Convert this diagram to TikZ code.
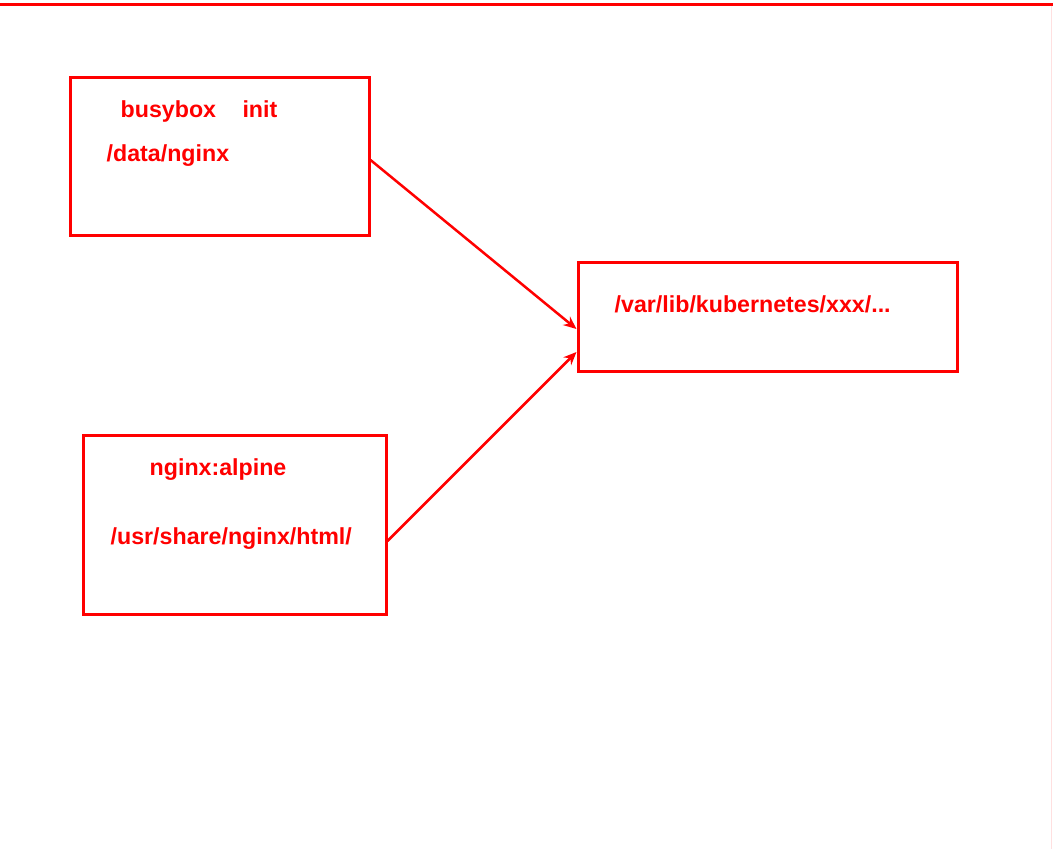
\documentclass[tikz,border=0pt]{standalone}
\usepackage{fontspec}
\setmainfont{Liberation Sans}
\usetikzlibrary{arrows.meta}
\definecolor{pathred}{RGB}{255,0,0}
\begin{document}
\begin{tikzpicture}[x=1pt,y=-1pt,box/.style={draw=pathred,line
        width=3pt,rectangle,inner sep=0pt},lbl/.style={anchor=base
        west,inner sep=0pt,text=pathred,font=\fontsize{23.2}{28}\selectfont\bfseries},
        mount/.style={draw=pathred,line width=2.5pt,-{Stealth[length=13pt,width=11pt]}}]

    \useasboundingbox (0,0) rectangle (1053,849);
    \draw[pathred,line width=3pt] (0,4) -- (1053,4);
    \draw[pathred!12,line width=1pt] (1051.5,5.5) -- (1051.5,849);

    \node[box,minimum width=299pt,minimum height=158pt] (init) at (219.5,156) {};
    \node[box,minimum width=303pt,minimum height=179pt] (web) at (234.5,524.5) {};
    \node[box,minimum width=379pt,minimum height=109pt] (host) at (767.5,316.5) {};

    \node[lbl] (initname) at (120.5,117) {busybox\hspace{20pt} init};
    \node[lbl] (initdir) at (106.5,161.5) {/data/nginx};
    \node[lbl] (webname) at (149.5,475.5) {nginx:alpine};
    \node[lbl] (webdir) at (110.5,544.5) {/usr/share/nginx/html/};
    \node[lbl] (hostdir) at (614.5,312.5) {/var/lib/kubernetes/xxx/...};

    \draw[mount] ([yshift=-4pt]init.east) to ([yshift=-12.5pt]host.west);
    \draw[mount] ([yshift=-16.5pt]web.east) to ([yshift=-35.5pt]host.west);

  \end{tikzpicture}
\end{document}
